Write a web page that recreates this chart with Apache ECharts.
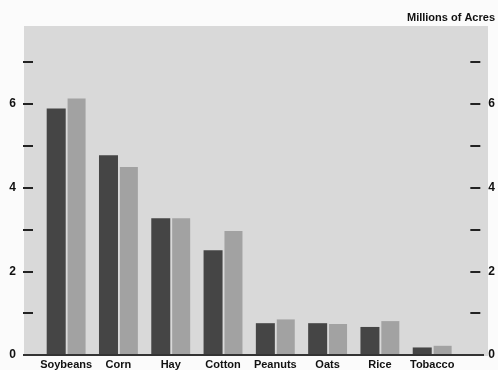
<!DOCTYPE html>
<html>
<head>
<meta charset="utf-8">
<script src="https://cdn.jsdelivr.net/npm/echarts@6/dist/echarts.min.js"></script>
<style>
html,body{margin:0;padding:0;background:#fbfbfb;}
#c{width:498px;height:370px;}
</style>
</head>
<body>
<div id="c"></div>
<script>
var categories = ['Soybeans','Corn','Hay','Cotton','Peanuts','Oats','Rice','Tobacco'];
var seriesDark = [5.89, 4.77, 3.27, 2.50, 0.76, 0.76, 0.67, 0.18];
var seriesLight = [6.13, 4.49, 3.27, 2.96, 0.85, 0.74, 0.81, 0.22];
var tickLabels = ['0','','2','','4','','6',''];

var chart = echarts.init(document.getElementById('c'), null, {renderer:'canvas'});
var font = 'Liberation Sans';
function yAxisDef(pos, offset, margin){
  return {
    type:'value', position:pos, offset:offset, min:0, max:7, interval:1,
    axisLine:{show:false},
    axisTick:{show:true, length:10, inside:false, lineStyle:{color:'#222', width:2}},
    splitLine:{show:false},
    axisLabel:{margin:margin, color:'#111', fontSize:12, fontWeight:'bold', fontFamily:font,
      formatter:function(v){return tickLabels[Math.round(v)] || '';}}
  };
}
chart.setOption({
  animation:false,
  graphic:[
    {type:'rect', shape:{x:24, y:26, width:464, height:330}, style:{fill:'#d9d9d9'}, z:-10},
    {type:'text', right:3, top:12, style:{text:'Millions of Acres', fontSize:11, fontWeight:'bold', fontFamily:font, fill:'#111'}}
  ],
  grid:{left:40, right:37, top:62, bottom:14},
  xAxis:{type:'category', data:categories,
    axisLine:{show:false}, axisTick:{show:false},
    axisLabel:{margin:4, color:'#111', fontSize:11, fontWeight:'bold', fontFamily:font, interval:0}},
  yAxis:[yAxisDef('left', 7, 17), yAxisDef('right', 12, 18)],
  series:[
    {type:'bar', data:seriesDark, barWidth:19, barGap:'10%', itemStyle:{color:'#454545'}},
    {type:'bar', data:seriesLight, barWidth:18, itemStyle:{color:'#a2a2a2'}}
  ]
});
// zero baseline spanning the panel, positioned through the axis scale
var y0 = chart.convertToPixel({yAxisIndex:0}, 0);
chart.setOption({graphic:[{}, {}, {type:'line', shape:{x1:23, y1:y0, x2:484, y2:y0}, style:{stroke:'#333', lineWidth:2}, z:10}]});
</script>
</body>
</html>
